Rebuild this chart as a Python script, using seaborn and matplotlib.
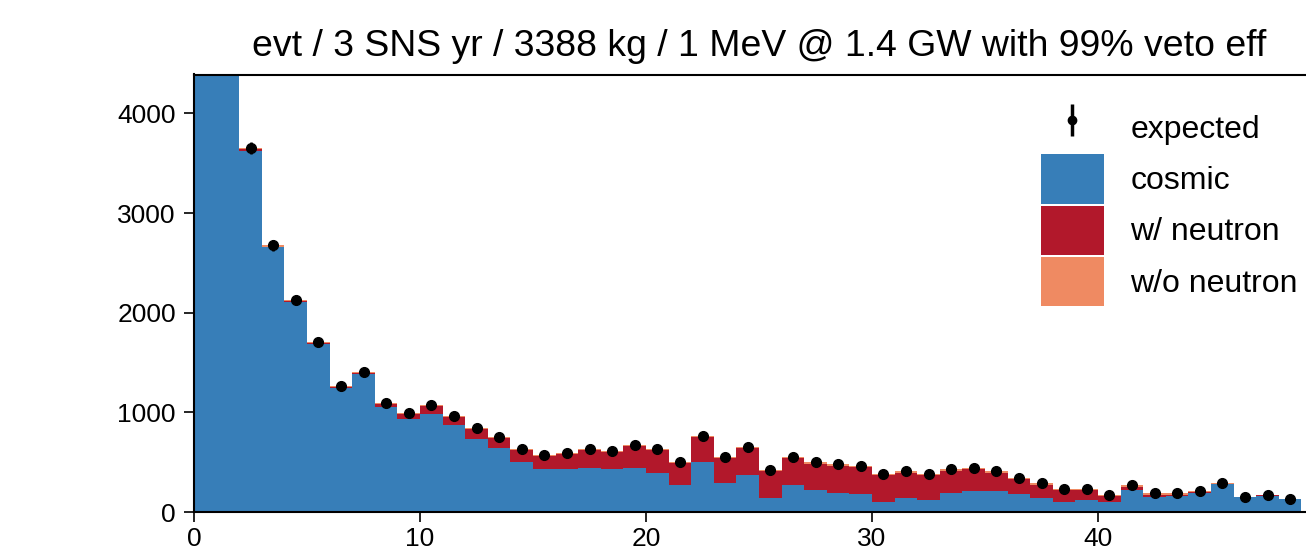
import numpy as np
import pandas as pd
import matplotlib
matplotlib.use("Agg")
import matplotlib.pyplot as plt
import seaborn as sns
from matplotlib.patches import Patch

# ---- data (1 MeV bins from 0 to 49) ----
bin_edges = list(range(0, 50))
cosmic = [9000, 5200, 3625, 2655, 2110, 1685, 1245, 1380, 1053, 930,
          987, 877, 737, 640, 505, 432, 427, 443, 427, 443,
          387, 273, 503, 293, 367, 140, 270, 220, 193, 177,
          103, 137, 120, 193, 213, 213, 177, 137, 100, 120,
          103, 220, 147, 163, 187, 280, 150, 160, 130]
w_neutron = [0, 0, 13, 8, 8, 6, 8, 11, 32, 55,
             78, 74, 96, 100, 115, 131, 156, 175, 174, 215,
             231, 218, 248, 248, 274, 268, 271, 265, 272, 271,
             265, 258, 248, 222, 215, 182, 154, 138, 118, 98,
             55, 35, 28, 12, 11, 2, 0, 6, 0]
wo_neutron = [0, 0, 12, 12, 12, 12, 12, 12, 12, 12,
              12, 12, 12, 12, 12, 12, 12, 12, 12, 12,
              12, 12, 12, 12, 12, 12, 12, 12, 12, 12,
              12, 12, 12, 12, 12, 12, 12, 12, 12, 12,
              12, 12, 12, 12, 12, 5, 5, 6, 3]
expected = [9000, 5200, 3650, 2675, 2130, 1703, 1265, 1403, 1097, 997,
            1077, 963, 845, 752, 632, 575, 595, 630, 613, 670,
            630, 503, 763, 553, 653, 420, 553, 497, 477, 460,
            380, 407, 380, 427, 440, 407, 343, 287, 230, 230,
            170, 267, 187, 187, 210, 287, 155, 172, 133]

title = "evt / 3 SNS yr / 3388 kg / 1 MeV @ 1.4 GW with 99% veto eff"
labels = ["cosmic", "w/ neutron", "w/o neutron"]
colors = {"cosmic": "#377eb8", "w/ neutron": "#b2182b", "w/o neutron": "#ef8a62"}

centers = np.array(bin_edges[:-1]) + 0.5

rows = []
for lab, vals in zip(labels, [cosmic, w_neutron, wo_neutron]):
    for c, v in zip(centers, vals):
        rows.append({"E": c, "w": v, "component": lab})
df = pd.DataFrame(rows)

sns.set_style("ticks")
plt.rcParams["font.family"] = ["Liberation Sans", "DejaVu Sans"]
plt.rcParams["text.color"] = "black"

fig = plt.figure(figsize=(13.06, 5.55), dpi=100)
ax = fig.add_axes([194 / 1306, 43 / 555, 1130 / 1306, 437.5 / 555])

sns.histplot(data=df, x="E", weights="w", hue="component",
             hue_order=["w/o neutron", "w/ neutron", "cosmic"],
             palette=colors, multiple="stack", bins=bin_edges,
             element="step", fill=True, alpha=1, linewidth=0,
             legend=False, ax=ax)

exp = np.array(expected, dtype=float)
ax.errorbar(centers, exp, yerr=np.sqrt(exp), fmt="o", color="black",
            ms=7, elinewidth=1.8, capsize=0, zorder=5)

ax.set_xlim(0, 50)
ax.set_ylim(0, 4390)
ax.set_xticks([0, 10, 20, 30, 40])
ax.set_yticks([0, 1000, 2000, 3000, 4000])
ax.set_xlabel("")
ax.set_ylabel("")
ax.tick_params(labelsize=19, length=7, width=1.2, colors="black",
               labelcolor="black")
ax.tick_params(axis="y", pad=6)
for s in ax.spines.values():
    s.set_linewidth(1.5)
    s.set_color("black")
ax.set_title(title, fontsize=26.9, pad=13, color="black")

eb_handle = ax.errorbar([], [], yerr=[], fmt="o", color="black", ms=6,
                        elinewidth=2.5)
handles = [eb_handle] + [Patch(facecolor=colors[l], edgecolor="none") for l in labels]
fig.legend(handles, ["expected"] + labels, loc="upper left",
           bbox_to_anchor=(1041 / 1306, 1 - 103 / 555),
           bbox_transform=fig.transFigure, frameon=False,
           fontsize=23, handlelength=1.96, handleheight=2.0,
           handletextpad=0.83, labelspacing=0.06, borderpad=0,
           borderaxespad=0)

fig.savefig("out.png", dpi=100)
